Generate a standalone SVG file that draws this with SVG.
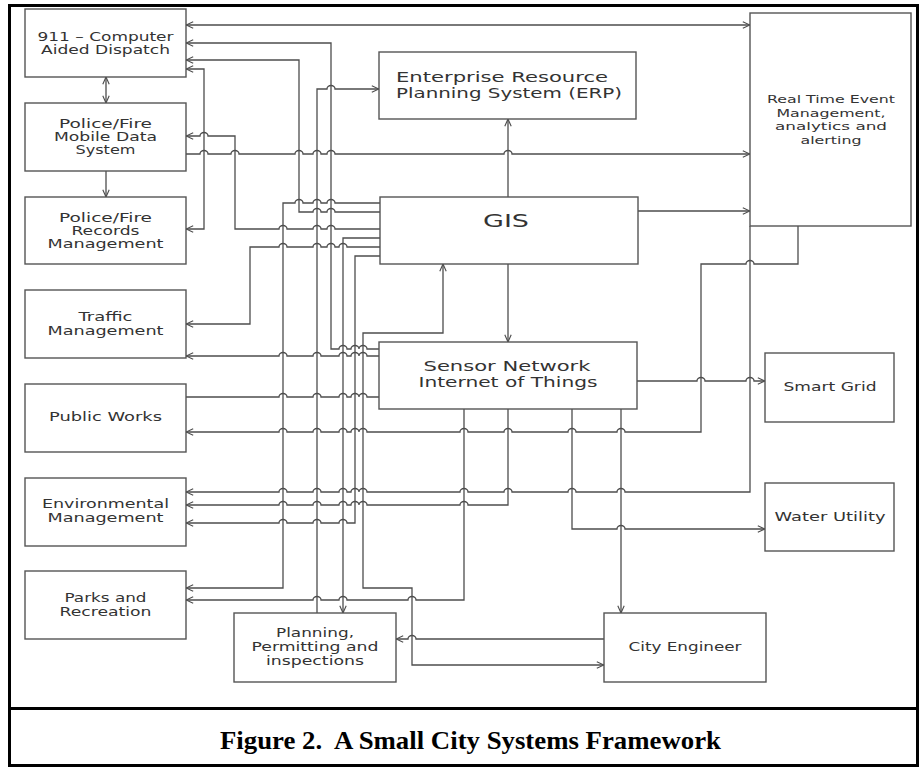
<svg xmlns="http://www.w3.org/2000/svg" width="919" height="767" viewBox="0 0 919 767">
<style>
.box{fill:#fff;stroke:#555;stroke-width:1.4}
.c{fill:none;stroke:#4d4d4d;stroke-width:1.3}
.t{font-family:"DejaVu Sans",sans-serif;font-size:11.5px;fill:#333;text-anchor:middle}
.tm{font-family:"DejaVu Sans",sans-serif;font-size:14px;fill:#333;text-anchor:middle}
.tg{font-family:"DejaVu Sans",sans-serif;font-size:17px;fill:#333;text-anchor:middle}
.tr{font-family:"DejaVu Sans",sans-serif;font-size:10.5px;fill:#333;text-anchor:middle}
.cap{font-family:"Liberation Serif",serif;font-size:25px;font-weight:bold;fill:#000;text-anchor:middle}
</style>
<defs>
<marker id="arr" viewBox="0 0 10 10" refX="10" refY="5" markerWidth="8" markerHeight="8" markerUnits="userSpaceOnUse" orient="auto-start-reverse">
<path d="M1,1 L10,5 L1,9" fill="none" stroke="#4d4d4d" stroke-width="1.4"/>
</marker>
</defs>
<rect x="0" y="0" width="919" height="767" fill="#fff"/>
<g id="frame" fill="none" stroke="#000" stroke-width="3">
<rect x="9.5" y="5.5" width="908" height="760"/>
<line x1="9.5" y1="708.5" x2="917.5" y2="708.5"/>
</g>
<g id="connectors" class="c">
<path d="M186,25 H750" marker-start="url(#arr)" marker-end="url(#arr)"/>
<path d="M379,349 H367 A4,3.5 0 0 0 359,349 A4,3.5 0 0 0 351,349 H347 A4,3.5 0 0 0 339,349 H331 V43 H186" marker-end="url(#arr)"/>
<path d="M380,212 H335 A4,3.5 0 0 0 327,212 H321 A4,3.5 0 0 0 313,212 H299 V60 H186" marker-end="url(#arr)"/>
<path d="M186,69 H204 V229 H186" marker-start="url(#arr)" marker-end="url(#arr)"/>
<path d="M106,77 V103" marker-start="url(#arr)" marker-end="url(#arr)"/>
<path d="M106,171 V197" marker-end="url(#arr)"/>
<path d="M317,613 V89 H327 A4,3.5 0 0 1 335,89 H379" marker-end="url(#arr)"/>
<path d="M380,229 H335 A4,3.5 0 0 0 327,229 H321 A4,3.5 0 0 0 313,229 H287 A4,3.5 0 0 0 279,229 H235 V136 H208 A4,3.5 0 0 0 200,136 H186" marker-end="url(#arr)"/>
<path d="M186,154 H200 A4,3.5 0 0 1 208,154 H231 A4,3.5 0 0 1 239,154 H295 A4,3.5 0 0 1 303,154 H313 A4,3.5 0 0 1 321,154 H327 A4,3.5 0 0 1 335,154 H504 A4,3.5 0 0 1 512,154 H750" marker-end="url(#arr)"/>
<path d="M508,197 V119" marker-end="url(#arr)"/>
<path d="M638,211 H750" marker-end="url(#arr)"/>
<path d="M380,203 H335 A4,3.5 0 0 0 327,203 H321 A4,3.5 0 0 0 313,203 H303 A4,3.5 0 0 0 295,203 H283 V588 H186" marker-end="url(#arr)"/>
<path d="M380,238 H343 V613" marker-end="url(#arr)"/>
<path d="M380,247 H347 A4,3.5 0 0 0 339,247 H335 A4,3.5 0 0 0 327,247 H321 A4,3.5 0 0 0 313,247 H287 A4,3.5 0 0 0 279,247 H250 V324 H186" marker-end="url(#arr)"/>
<path d="M380,256 H355 V523 H347 A4,3.5 0 0 0 339,523 H321 A4,3.5 0 0 0 313,523 H287 A4,3.5 0 0 0 279,523 H186" marker-end="url(#arr)"/>
<path d="M443,264 V333 H363 V588 H412 V665 H604" marker-start="url(#arr)" marker-end="url(#arr)"/>
<path d="M604,639 H416 A4,3.5 0 0 0 408,639 H396" marker-end="url(#arr)"/>
<path d="M379,356 H367 A4,3.5 0 0 0 359,356 A4,3.5 0 0 0 351,356 H347 A4,3.5 0 0 0 339,356 H321 A4,3.5 0 0 0 313,356 H287 A4,3.5 0 0 0 279,356 H186" marker-end="url(#arr)"/>
<path d="M186,397 H279 A4,3.5 0 0 1 287,397 H313 A4,3.5 0 0 1 321,397 H339 A4,3.5 0 0 1 347,397 H351 A4,3.5 0 0 1 359,397 A4,3.5 0 0 1 367,397 H379"/>
<path d="M798,226 V264 H754 A4,3.5 0 0 0 746,264 H701 V432 H625 A4,3.5 0 0 0 617,432 H576 A4,3.5 0 0 0 568,432 H512 A4,3.5 0 0 0 504,432 H468 A4,3.5 0 0 0 460,432 H367 A4,3.5 0 0 0 359,432 A4,3.5 0 0 0 351,432 H347 A4,3.5 0 0 0 339,432 H321 A4,3.5 0 0 0 313,432 H287 A4,3.5 0 0 0 279,432 H186" marker-end="url(#arr)"/>
<path d="M750,226 V492 H625 A4,3.5 0 0 0 617,492 H576 A4,3.5 0 0 0 568,492 H512 A4,3.5 0 0 0 504,492 H468 A4,3.5 0 0 0 460,492 H367 A4,3.5 0 0 0 359,492 A4,3.5 0 0 0 351,492 H347 A4,3.5 0 0 0 339,492 H321 A4,3.5 0 0 0 313,492 H287 A4,3.5 0 0 0 279,492 H186" marker-end="url(#arr)"/>
<path d="M508,409 V505 H468 A4,3.5 0 0 0 460,505 H367 A4,3.5 0 0 0 359,505 A4,3.5 0 0 0 351,505 H347 A4,3.5 0 0 0 339,505 H321 A4,3.5 0 0 0 313,505 H287 A4,3.5 0 0 0 279,505 H186" marker-end="url(#arr)"/>
<path d="M464,409 V600 H416 A4,3.5 0 0 0 408,600 H347 A4,3.5 0 0 0 339,600 H321 A4,3.5 0 0 0 313,600 H186" marker-end="url(#arr)"/>
<path d="M572,409 V529 H617 A4,3.5 0 0 1 625,529 H765" marker-end="url(#arr)"/>
<path d="M621,409 V613" marker-end="url(#arr)"/>
<path d="M637,381 H697 A4,3.5 0 0 1 705,381 H746 A4,3.5 0 0 1 754,381 H765" marker-end="url(#arr)"/>
<path d="M508,264 V342" marker-end="url(#arr)"/>
</g>
<g id="n911"><rect class="box" x="25" y="9" width="161" height="68"/>
<text class="t" x="105.5" y="40.5" textLength="136" lengthAdjust="spacingAndGlyphs">911 – Computer</text>
<text class="t" x="105.5" y="53.5" textLength="129" lengthAdjust="spacingAndGlyphs">Aided Dispatch</text></g>
<g id="mobile"><rect class="box" x="25" y="103" width="161" height="68"/>
<text class="t" x="105.5" y="128" textLength="93" lengthAdjust="spacingAndGlyphs">Police/Fire</text>
<text class="t" x="105.5" y="141" textLength="103" lengthAdjust="spacingAndGlyphs">Mobile Data</text>
<text class="t" x="105.5" y="154" textLength="60" lengthAdjust="spacingAndGlyphs">System</text></g>
<g id="records"><rect class="box" x="25" y="197" width="161" height="67"/>
<text class="t" x="105.5" y="222" textLength="93" lengthAdjust="spacingAndGlyphs">Police/Fire</text>
<text class="t" x="105.5" y="235" textLength="68" lengthAdjust="spacingAndGlyphs">Records</text>
<text class="t" x="105.5" y="248" textLength="116" lengthAdjust="spacingAndGlyphs">Management</text></g>
<g id="traffic"><rect class="box" x="25" y="290" width="161" height="68"/>
<text class="t" x="105.5" y="321" textLength="54" lengthAdjust="spacingAndGlyphs">Traffic</text>
<text class="t" x="105.5" y="335" textLength="116" lengthAdjust="spacingAndGlyphs">Management</text></g>
<g id="publicworks"><rect class="box" x="25" y="384" width="161" height="68"/>
<text class="t" x="105.5" y="421" textLength="113" lengthAdjust="spacingAndGlyphs">Public Works</text></g>
<g id="environmental"><rect class="box" x="25" y="478" width="161" height="68"/>
<text class="t" x="105.5" y="508" textLength="127" lengthAdjust="spacingAndGlyphs">Environmental</text>
<text class="t" x="105.5" y="522" textLength="116" lengthAdjust="spacingAndGlyphs">Management</text></g>
<g id="parks"><rect class="box" x="25" y="571" width="161" height="68"/>
<text class="t" x="105.5" y="602" textLength="82" lengthAdjust="spacingAndGlyphs">Parks and</text>
<text class="t" x="105.5" y="616" textLength="92" lengthAdjust="spacingAndGlyphs">Recreation</text></g>
<g id="planning"><rect class="box" x="234" y="613" width="162" height="69"/>
<text class="t" x="315" y="637" textLength="78" lengthAdjust="spacingAndGlyphs">Planning,</text>
<text class="t" x="315" y="651" textLength="127" lengthAdjust="spacingAndGlyphs">Permitting and</text>
<text class="t" x="315" y="664.5" textLength="98" lengthAdjust="spacingAndGlyphs">inspections</text></g>
<g id="cityengineer"><rect class="box" x="604" y="613" width="162" height="69"/>
<text class="t" x="685" y="651" textLength="113" lengthAdjust="spacingAndGlyphs">City Engineer</text></g>
<g id="water"><rect class="box" x="765" y="483" width="129" height="68"/>
<text class="t" x="830" y="521" textLength="111" lengthAdjust="spacingAndGlyphs">Water Utility</text></g>
<g id="smartgrid"><rect class="box" x="765" y="353" width="129" height="69"/>
<text class="t" x="830" y="391" textLength="93" lengthAdjust="spacingAndGlyphs">Smart Grid</text></g>
<g id="realtime"><rect class="box" x="750" y="13" width="161" height="213"/>
<text class="tr" x="831" y="103" textLength="128" lengthAdjust="spacingAndGlyphs">Real Time Event</text>
<text class="tr" x="831" y="117" textLength="109" lengthAdjust="spacingAndGlyphs">Management,</text>
<text class="tr" x="831" y="130" textLength="112" lengthAdjust="spacingAndGlyphs">analytics and</text>
<text class="tr" x="831" y="143.5" textLength="61" lengthAdjust="spacingAndGlyphs">alerting</text></g>
<g id="erp"><rect class="box" x="379" y="52" width="257" height="67"/>
<text class="tm" x="502" y="82" textLength="212" lengthAdjust="spacingAndGlyphs">Enterprise Resource</text>
<text class="tm" x="509" y="97.5" textLength="226" lengthAdjust="spacingAndGlyphs">Planning System (ERP)</text></g>
<g id="gis"><rect class="box" x="380" y="197" width="258" height="67"/>
<text class="tg" x="506" y="227" textLength="46" lengthAdjust="spacingAndGlyphs">GIS</text></g>
<g id="sensor"><rect class="box" x="379" y="342" width="258" height="67"/>
<text class="tm" x="507" y="371" textLength="167" lengthAdjust="spacingAndGlyphs">Sensor Network</text>
<text class="tm" x="508" y="386.5" textLength="179" lengthAdjust="spacingAndGlyphs">Internet of Things</text></g>
<g id="caption">
<text class="cap" x="470.5" y="749" textLength="501" lengthAdjust="spacingAndGlyphs">Figure 2.&#160; A Small City Systems Framework</text></g>
</svg>
